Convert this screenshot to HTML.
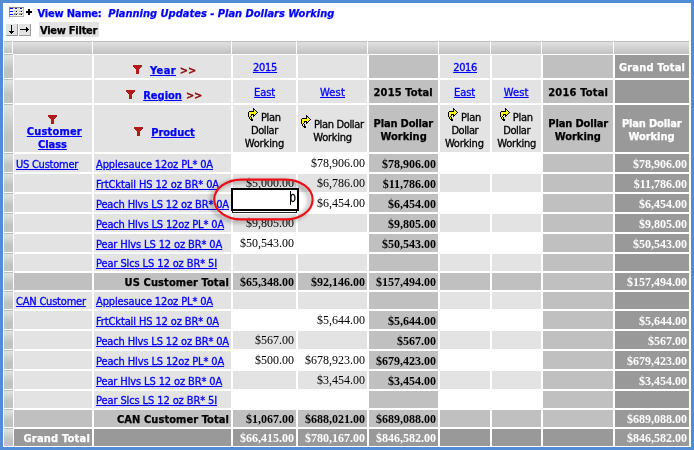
<!DOCTYPE html><html><head><meta charset="utf-8"><title>Planning Updates - Plan Dollars Working</title><style>
html,body{margin:0;padding:0}
body{width:694px;height:450px;overflow:hidden;background:#fff;position:relative}
#frame{position:absolute;left:0;top:0;width:688px;height:444px;border:3px solid #528cd6;pointer-events:none}
.c{position:absolute}
.t{position:absolute;white-space:nowrap;line-height:16px;height:16px;color:#000}
.u{text-decoration:underline}
.tr{font:11px 'DejaVu Sans Condensed','DejaVu Sans','Liberation Sans',sans-serif;-webkit-text-stroke:0.3px;}
.tb{font:bold 11px 'DejaVu Sans Condensed','DejaVu Sans','Liberation Sans',sans-serif;-webkit-text-stroke:0.25px;}
.tbi{font:italic bold 11px 'DejaVu Sans Condensed','DejaVu Sans','Liberation Sans',sans-serif;-webkit-text-stroke:0.25px;}
.tb12{font:bold 12px 'DejaVu Sans Condensed','DejaVu Sans','Liberation Sans',sans-serif;}
.sr{font:12px 'Liberation Serif',serif;}
.sb{font:bold 12px 'Liberation Serif',serif;}

</style></head><body>
<div class="c" style="left:4px;top:41px;width:8px;height:12px;background:linear-gradient(to bottom,#bcbcbc 0,#bcbcbc 1px,#e1e1e1 1px,#c1c1c1 100%);"></div>
<div class="c" style="left:13px;top:41px;width:79px;height:13px;background:linear-gradient(to bottom,#bcbcbc 0,#bcbcbc 1px,#e1e1e1 1px,#c1c1c1 100%);"></div>
<div class="c" style="left:93px;top:41px;width:138px;height:13px;background:linear-gradient(to bottom,#bcbcbc 0,#bcbcbc 1px,#e1e1e1 1px,#c1c1c1 100%);"></div>
<div class="c" style="left:232px;top:41px;width:64px;height:13px;background:linear-gradient(to bottom,#bcbcbc 0,#bcbcbc 1px,#e1e1e1 1px,#c1c1c1 100%);"></div>
<div class="c" style="left:297px;top:41px;width:70px;height:13px;background:linear-gradient(to bottom,#bcbcbc 0,#bcbcbc 1px,#e1e1e1 1px,#c1c1c1 100%);"></div>
<div class="c" style="left:368px;top:41px;width:70px;height:13px;background:linear-gradient(to bottom,#bcbcbc 0,#bcbcbc 1px,#e1e1e1 1px,#c1c1c1 100%);"></div>
<div class="c" style="left:439px;top:41px;width:51px;height:13px;background:linear-gradient(to bottom,#bcbcbc 0,#bcbcbc 1px,#e1e1e1 1px,#c1c1c1 100%);"></div>
<div class="c" style="left:491px;top:41px;width:50px;height:13px;background:linear-gradient(to bottom,#bcbcbc 0,#bcbcbc 1px,#e1e1e1 1px,#c1c1c1 100%);"></div>
<div class="c" style="left:542px;top:41px;width:71px;height:13px;background:linear-gradient(to bottom,#bcbcbc 0,#bcbcbc 1px,#e1e1e1 1px,#c1c1c1 100%);"></div>
<div class="c" style="left:614px;top:41px;width:75px;height:13px;background:linear-gradient(to bottom,#bcbcbc 0,#bcbcbc 1px,#e1e1e1 1px,#c1c1c1 100%);"></div>
<div class="c" style="left:4px;top:54px;width:9px;height:24px;background:linear-gradient(to bottom,#bcbcbc 0,#bcbcbc 1px,#e1e1e1 1px,#c2c2c2 65%,#c2c2c2 100%);"></div>
<div class="c" style="left:4px;top:79px;width:9px;height:24px;background:linear-gradient(to bottom,#bcbcbc 0,#bcbcbc 1px,#e1e1e1 1px,#c2c2c2 65%,#c2c2c2 100%);"></div>
<div class="c" style="left:4px;top:104px;width:9px;height:48px;background:linear-gradient(to bottom,#bcbcbc 0,#bcbcbc 1px,#e1e1e1 1px,#c2c2c2 65%,#c2c2c2 100%);"></div>
<div class="c" style="left:4px;top:153px;width:9px;height:19px;background:linear-gradient(to bottom,#bcbcbc 0,#bcbcbc 1px,#e1e1e1 1px,#c2c2c2 65%,#c2c2c2 100%);"></div>
<div class="c" style="left:4px;top:173px;width:9px;height:19px;background:linear-gradient(to bottom,#bcbcbc 0,#bcbcbc 1px,#e1e1e1 1px,#c2c2c2 65%,#c2c2c2 100%);"></div>
<div class="c" style="left:4px;top:193px;width:9px;height:19px;background:linear-gradient(to bottom,#bcbcbc 0,#bcbcbc 1px,#e1e1e1 1px,#c2c2c2 65%,#c2c2c2 100%);"></div>
<div class="c" style="left:4px;top:213px;width:9px;height:19px;background:linear-gradient(to bottom,#bcbcbc 0,#bcbcbc 1px,#e1e1e1 1px,#c2c2c2 65%,#c2c2c2 100%);"></div>
<div class="c" style="left:4px;top:233px;width:9px;height:19px;background:linear-gradient(to bottom,#bcbcbc 0,#bcbcbc 1px,#e1e1e1 1px,#c2c2c2 65%,#c2c2c2 100%);"></div>
<div class="c" style="left:4px;top:253px;width:9px;height:18px;background:linear-gradient(to bottom,#bcbcbc 0,#bcbcbc 1px,#e1e1e1 1px,#c2c2c2 65%,#c2c2c2 100%);"></div>
<div class="c" style="left:4px;top:272px;width:9px;height:18px;background:linear-gradient(to bottom,#bcbcbc 0,#bcbcbc 1px,#e1e1e1 1px,#c2c2c2 65%,#c2c2c2 100%);"></div>
<div class="c" style="left:4px;top:291px;width:9px;height:18px;background:linear-gradient(to bottom,#bcbcbc 0,#bcbcbc 1px,#e1e1e1 1px,#c2c2c2 65%,#c2c2c2 100%);"></div>
<div class="c" style="left:4px;top:310px;width:9px;height:19px;background:linear-gradient(to bottom,#bcbcbc 0,#bcbcbc 1px,#e1e1e1 1px,#c2c2c2 65%,#c2c2c2 100%);"></div>
<div class="c" style="left:4px;top:330px;width:9px;height:19px;background:linear-gradient(to bottom,#bcbcbc 0,#bcbcbc 1px,#e1e1e1 1px,#c2c2c2 65%,#c2c2c2 100%);"></div>
<div class="c" style="left:4px;top:350px;width:9px;height:19px;background:linear-gradient(to bottom,#bcbcbc 0,#bcbcbc 1px,#e1e1e1 1px,#c2c2c2 65%,#c2c2c2 100%);"></div>
<div class="c" style="left:4px;top:370px;width:9px;height:19px;background:linear-gradient(to bottom,#bcbcbc 0,#bcbcbc 1px,#e1e1e1 1px,#c2c2c2 65%,#c2c2c2 100%);"></div>
<div class="c" style="left:4px;top:390px;width:9px;height:18px;background:linear-gradient(to bottom,#bcbcbc 0,#bcbcbc 1px,#e1e1e1 1px,#c2c2c2 65%,#c2c2c2 100%);"></div>
<div class="c" style="left:4px;top:409px;width:9px;height:18px;background:linear-gradient(to bottom,#bcbcbc 0,#bcbcbc 1px,#e1e1e1 1px,#c2c2c2 65%,#c2c2c2 100%);"></div>
<div class="c" style="left:4px;top:428px;width:9px;height:18px;background:linear-gradient(to bottom,#bcbcbc 0,#bcbcbc 1px,#e1e1e1 1px,#c2c2c2 65%,#c2c2c2 100%);"></div>
<div class="c" style="left:14px;top:55px;width:78px;height:23px;background:#e3e3e3;"></div>
<div class="c" style="left:94px;top:55px;width:137px;height:23px;background:#e3e3e3;"></div>
<div class="c" style="left:233px;top:55px;width:63px;height:23px;background:#e3e3e3;"></div>
<div class="c" style="left:298px;top:55px;width:69px;height:23px;background:#e3e3e3;"></div>
<div class="c" style="left:369px;top:55px;width:69px;height:23px;background:#c0c0c0;"></div>
<div class="c" style="left:440px;top:55px;width:50px;height:23px;background:#e3e3e3;"></div>
<div class="c" style="left:492px;top:55px;width:49px;height:23px;background:#e3e3e3;"></div>
<div class="c" style="left:543px;top:55px;width:70px;height:23px;background:#c0c0c0;"></div>
<div class="c" style="left:615px;top:55px;width:74px;height:23px;background:#999999;"></div>
<div class="c" style="left:14px;top:80px;width:78px;height:23px;background:#e3e3e3;"></div>
<div class="c" style="left:94px;top:80px;width:137px;height:23px;background:#e3e3e3;"></div>
<div class="c" style="left:233px;top:80px;width:63px;height:23px;background:#e3e3e3;"></div>
<div class="c" style="left:298px;top:80px;width:69px;height:23px;background:#e3e3e3;"></div>
<div class="c" style="left:369px;top:80px;width:69px;height:23px;background:#c0c0c0;"></div>
<div class="c" style="left:440px;top:80px;width:50px;height:23px;background:#e3e3e3;"></div>
<div class="c" style="left:492px;top:80px;width:49px;height:23px;background:#e3e3e3;"></div>
<div class="c" style="left:543px;top:80px;width:70px;height:23px;background:#c0c0c0;"></div>
<div class="c" style="left:615px;top:80px;width:74px;height:23px;background:#999999;"></div>
<div class="c" style="left:14px;top:105px;width:78px;height:47px;background:#e3e3e3;"></div>
<div class="c" style="left:94px;top:105px;width:137px;height:47px;background:#e3e3e3;"></div>
<div class="c" style="left:233px;top:105px;width:63px;height:47px;background:#e3e3e3;"></div>
<div class="c" style="left:298px;top:105px;width:69px;height:47px;background:#e3e3e3;"></div>
<div class="c" style="left:369px;top:105px;width:69px;height:47px;background:#c0c0c0;"></div>
<div class="c" style="left:440px;top:105px;width:50px;height:47px;background:#e3e3e3;"></div>
<div class="c" style="left:492px;top:105px;width:49px;height:47px;background:#e3e3e3;"></div>
<div class="c" style="left:543px;top:105px;width:70px;height:47px;background:#c0c0c0;"></div>
<div class="c" style="left:615px;top:105px;width:74px;height:47px;background:#999999;"></div>
<div class="c" style="left:14px;top:154px;width:78px;height:18px;background:#e3e3e3;"></div>
<div class="c" style="left:94px;top:154px;width:137px;height:18px;background:#e3e3e3;"></div>
<div class="c" style="left:233px;top:154px;width:63px;height:18px;background:#ffffff;"></div>
<div class="c" style="left:298px;top:154px;width:69px;height:18px;background:#ffffff;"></div>
<div class="c" style="left:440px;top:154px;width:50px;height:18px;background:#ffffff;"></div>
<div class="c" style="left:492px;top:154px;width:49px;height:18px;background:#ffffff;"></div>
<div class="c" style="left:369px;top:154px;width:69px;height:18px;background:#c0c0c0;"></div>
<div class="c" style="left:543px;top:154px;width:70px;height:18px;background:#c0c0c0;"></div>
<div class="c" style="left:615px;top:154px;width:74px;height:18px;background:#999999;"></div>
<div class="c" style="left:14px;top:174px;width:78px;height:18px;background:#e3e3e3;"></div>
<div class="c" style="left:94px;top:174px;width:137px;height:18px;background:#e3e3e3;"></div>
<div class="c" style="left:233px;top:174px;width:63px;height:18px;background:#e3e3e3;"></div>
<div class="c" style="left:298px;top:174px;width:69px;height:18px;background:#e3e3e3;"></div>
<div class="c" style="left:440px;top:174px;width:50px;height:18px;background:#e3e3e3;"></div>
<div class="c" style="left:492px;top:174px;width:49px;height:18px;background:#e3e3e3;"></div>
<div class="c" style="left:369px;top:174px;width:69px;height:18px;background:#c0c0c0;"></div>
<div class="c" style="left:543px;top:174px;width:70px;height:18px;background:#c0c0c0;"></div>
<div class="c" style="left:615px;top:174px;width:74px;height:18px;background:#999999;"></div>
<div class="c" style="left:14px;top:194px;width:78px;height:18px;background:#e3e3e3;"></div>
<div class="c" style="left:94px;top:194px;width:137px;height:18px;background:#e3e3e3;"></div>
<div class="c" style="left:233px;top:194px;width:63px;height:18px;background:#ffffff;"></div>
<div class="c" style="left:298px;top:194px;width:69px;height:18px;background:#ffffff;"></div>
<div class="c" style="left:440px;top:194px;width:50px;height:18px;background:#ffffff;"></div>
<div class="c" style="left:492px;top:194px;width:49px;height:18px;background:#ffffff;"></div>
<div class="c" style="left:369px;top:194px;width:69px;height:18px;background:#c0c0c0;"></div>
<div class="c" style="left:543px;top:194px;width:70px;height:18px;background:#c0c0c0;"></div>
<div class="c" style="left:615px;top:194px;width:74px;height:18px;background:#999999;"></div>
<div class="c" style="left:14px;top:214px;width:78px;height:18px;background:#e3e3e3;"></div>
<div class="c" style="left:94px;top:214px;width:137px;height:18px;background:#e3e3e3;"></div>
<div class="c" style="left:233px;top:214px;width:63px;height:18px;background:#e3e3e3;"></div>
<div class="c" style="left:298px;top:214px;width:69px;height:18px;background:#e3e3e3;"></div>
<div class="c" style="left:440px;top:214px;width:50px;height:18px;background:#e3e3e3;"></div>
<div class="c" style="left:492px;top:214px;width:49px;height:18px;background:#e3e3e3;"></div>
<div class="c" style="left:369px;top:214px;width:69px;height:18px;background:#c0c0c0;"></div>
<div class="c" style="left:543px;top:214px;width:70px;height:18px;background:#c0c0c0;"></div>
<div class="c" style="left:615px;top:214px;width:74px;height:18px;background:#999999;"></div>
<div class="c" style="left:14px;top:234px;width:78px;height:18px;background:#e3e3e3;"></div>
<div class="c" style="left:94px;top:234px;width:137px;height:18px;background:#e3e3e3;"></div>
<div class="c" style="left:233px;top:234px;width:63px;height:18px;background:#ffffff;"></div>
<div class="c" style="left:298px;top:234px;width:69px;height:18px;background:#ffffff;"></div>
<div class="c" style="left:440px;top:234px;width:50px;height:18px;background:#ffffff;"></div>
<div class="c" style="left:492px;top:234px;width:49px;height:18px;background:#ffffff;"></div>
<div class="c" style="left:369px;top:234px;width:69px;height:18px;background:#c0c0c0;"></div>
<div class="c" style="left:543px;top:234px;width:70px;height:18px;background:#c0c0c0;"></div>
<div class="c" style="left:615px;top:234px;width:74px;height:18px;background:#999999;"></div>
<div class="c" style="left:14px;top:254px;width:78px;height:17px;background:#e3e3e3;"></div>
<div class="c" style="left:94px;top:254px;width:137px;height:17px;background:#e3e3e3;"></div>
<div class="c" style="left:233px;top:254px;width:63px;height:17px;background:#e3e3e3;"></div>
<div class="c" style="left:298px;top:254px;width:69px;height:17px;background:#e3e3e3;"></div>
<div class="c" style="left:440px;top:254px;width:50px;height:17px;background:#e3e3e3;"></div>
<div class="c" style="left:492px;top:254px;width:49px;height:17px;background:#e3e3e3;"></div>
<div class="c" style="left:369px;top:254px;width:69px;height:17px;background:#c0c0c0;"></div>
<div class="c" style="left:543px;top:254px;width:70px;height:17px;background:#c0c0c0;"></div>
<div class="c" style="left:615px;top:254px;width:74px;height:17px;background:#999999;"></div>
<div class="c" style="left:14px;top:273px;width:78px;height:17px;background:#c0c0c0;"></div>
<div class="c" style="left:94px;top:273px;width:137px;height:17px;background:#c0c0c0;"></div>
<div class="c" style="left:233px;top:273px;width:63px;height:17px;background:#c0c0c0;"></div>
<div class="c" style="left:298px;top:273px;width:69px;height:17px;background:#c0c0c0;"></div>
<div class="c" style="left:369px;top:273px;width:69px;height:17px;background:#c0c0c0;"></div>
<div class="c" style="left:440px;top:273px;width:50px;height:17px;background:#c0c0c0;"></div>
<div class="c" style="left:492px;top:273px;width:49px;height:17px;background:#c0c0c0;"></div>
<div class="c" style="left:543px;top:273px;width:70px;height:17px;background:#c0c0c0;"></div>
<div class="c" style="left:615px;top:273px;width:74px;height:17px;background:#999999;"></div>
<div class="c" style="left:14px;top:292px;width:78px;height:17px;background:#e3e3e3;"></div>
<div class="c" style="left:94px;top:292px;width:137px;height:17px;background:#e3e3e3;"></div>
<div class="c" style="left:233px;top:292px;width:63px;height:17px;background:#e3e3e3;"></div>
<div class="c" style="left:298px;top:292px;width:69px;height:17px;background:#e3e3e3;"></div>
<div class="c" style="left:440px;top:292px;width:50px;height:17px;background:#e3e3e3;"></div>
<div class="c" style="left:492px;top:292px;width:49px;height:17px;background:#e3e3e3;"></div>
<div class="c" style="left:369px;top:292px;width:69px;height:17px;background:#c0c0c0;"></div>
<div class="c" style="left:543px;top:292px;width:70px;height:17px;background:#c0c0c0;"></div>
<div class="c" style="left:615px;top:292px;width:74px;height:17px;background:#999999;"></div>
<div class="c" style="left:14px;top:311px;width:78px;height:18px;background:#e3e3e3;"></div>
<div class="c" style="left:94px;top:311px;width:137px;height:18px;background:#e3e3e3;"></div>
<div class="c" style="left:233px;top:311px;width:63px;height:18px;background:#ffffff;"></div>
<div class="c" style="left:298px;top:311px;width:69px;height:18px;background:#ffffff;"></div>
<div class="c" style="left:440px;top:311px;width:50px;height:18px;background:#ffffff;"></div>
<div class="c" style="left:492px;top:311px;width:49px;height:18px;background:#ffffff;"></div>
<div class="c" style="left:369px;top:311px;width:69px;height:18px;background:#c0c0c0;"></div>
<div class="c" style="left:543px;top:311px;width:70px;height:18px;background:#c0c0c0;"></div>
<div class="c" style="left:615px;top:311px;width:74px;height:18px;background:#999999;"></div>
<div class="c" style="left:14px;top:331px;width:78px;height:18px;background:#e3e3e3;"></div>
<div class="c" style="left:94px;top:331px;width:137px;height:18px;background:#e3e3e3;"></div>
<div class="c" style="left:233px;top:331px;width:63px;height:18px;background:#e3e3e3;"></div>
<div class="c" style="left:298px;top:331px;width:69px;height:18px;background:#e3e3e3;"></div>
<div class="c" style="left:440px;top:331px;width:50px;height:18px;background:#e3e3e3;"></div>
<div class="c" style="left:492px;top:331px;width:49px;height:18px;background:#e3e3e3;"></div>
<div class="c" style="left:369px;top:331px;width:69px;height:18px;background:#c0c0c0;"></div>
<div class="c" style="left:543px;top:331px;width:70px;height:18px;background:#c0c0c0;"></div>
<div class="c" style="left:615px;top:331px;width:74px;height:18px;background:#999999;"></div>
<div class="c" style="left:14px;top:351px;width:78px;height:18px;background:#e3e3e3;"></div>
<div class="c" style="left:94px;top:351px;width:137px;height:18px;background:#e3e3e3;"></div>
<div class="c" style="left:233px;top:351px;width:63px;height:18px;background:#ffffff;"></div>
<div class="c" style="left:298px;top:351px;width:69px;height:18px;background:#ffffff;"></div>
<div class="c" style="left:440px;top:351px;width:50px;height:18px;background:#ffffff;"></div>
<div class="c" style="left:492px;top:351px;width:49px;height:18px;background:#ffffff;"></div>
<div class="c" style="left:369px;top:351px;width:69px;height:18px;background:#c0c0c0;"></div>
<div class="c" style="left:543px;top:351px;width:70px;height:18px;background:#c0c0c0;"></div>
<div class="c" style="left:615px;top:351px;width:74px;height:18px;background:#999999;"></div>
<div class="c" style="left:14px;top:371px;width:78px;height:18px;background:#e3e3e3;"></div>
<div class="c" style="left:94px;top:371px;width:137px;height:18px;background:#e3e3e3;"></div>
<div class="c" style="left:233px;top:371px;width:63px;height:18px;background:#e3e3e3;"></div>
<div class="c" style="left:298px;top:371px;width:69px;height:18px;background:#e3e3e3;"></div>
<div class="c" style="left:440px;top:371px;width:50px;height:18px;background:#e3e3e3;"></div>
<div class="c" style="left:492px;top:371px;width:49px;height:18px;background:#e3e3e3;"></div>
<div class="c" style="left:369px;top:371px;width:69px;height:18px;background:#c0c0c0;"></div>
<div class="c" style="left:543px;top:371px;width:70px;height:18px;background:#c0c0c0;"></div>
<div class="c" style="left:615px;top:371px;width:74px;height:18px;background:#999999;"></div>
<div class="c" style="left:14px;top:391px;width:78px;height:17px;background:#e3e3e3;"></div>
<div class="c" style="left:94px;top:391px;width:137px;height:17px;background:#e3e3e3;"></div>
<div class="c" style="left:233px;top:391px;width:63px;height:17px;background:#ffffff;"></div>
<div class="c" style="left:298px;top:391px;width:69px;height:17px;background:#ffffff;"></div>
<div class="c" style="left:440px;top:391px;width:50px;height:17px;background:#ffffff;"></div>
<div class="c" style="left:492px;top:391px;width:49px;height:17px;background:#ffffff;"></div>
<div class="c" style="left:369px;top:391px;width:69px;height:17px;background:#c0c0c0;"></div>
<div class="c" style="left:543px;top:391px;width:70px;height:17px;background:#c0c0c0;"></div>
<div class="c" style="left:615px;top:391px;width:74px;height:17px;background:#999999;"></div>
<div class="c" style="left:14px;top:410px;width:78px;height:17px;background:#c0c0c0;"></div>
<div class="c" style="left:94px;top:410px;width:137px;height:17px;background:#c0c0c0;"></div>
<div class="c" style="left:233px;top:410px;width:63px;height:17px;background:#c0c0c0;"></div>
<div class="c" style="left:298px;top:410px;width:69px;height:17px;background:#c0c0c0;"></div>
<div class="c" style="left:369px;top:410px;width:69px;height:17px;background:#c0c0c0;"></div>
<div class="c" style="left:440px;top:410px;width:50px;height:17px;background:#c0c0c0;"></div>
<div class="c" style="left:492px;top:410px;width:49px;height:17px;background:#c0c0c0;"></div>
<div class="c" style="left:543px;top:410px;width:70px;height:17px;background:#c0c0c0;"></div>
<div class="c" style="left:615px;top:410px;width:74px;height:17px;background:#999999;"></div>
<div class="c" style="left:14px;top:429px;width:78px;height:17px;background:#999999;"></div>
<div class="c" style="left:94px;top:429px;width:137px;height:17px;background:#999999;"></div>
<div class="c" style="left:233px;top:429px;width:63px;height:17px;background:#999999;"></div>
<div class="c" style="left:298px;top:429px;width:69px;height:17px;background:#999999;"></div>
<div class="c" style="left:369px;top:429px;width:69px;height:17px;background:#999999;"></div>
<div class="c" style="left:440px;top:429px;width:50px;height:17px;background:#999999;"></div>
<div class="c" style="left:492px;top:429px;width:49px;height:17px;background:#999999;"></div>
<div class="c" style="left:543px;top:429px;width:70px;height:17px;background:#999999;"></div>
<div class="c" style="left:615px;top:429px;width:74px;height:17px;background:#999999;"></div>
<div class="c" style="left:39px;top:22px;width:60px;height:15px;background:#e3e3e3"></div>
<svg class="c" style="left:0;top:0" width="694" height="450" viewBox="0 0 694 450">
<defs>
<g id="fn" shape-rendering="crispEdges"><path d="M0 0H9V2H8V3H7V4H6V9H3V4H2V3H1V2H0Z" fill="#b41a1a"/></g>
<g id="ya" shape-rendering="crispEdges"><rect x="5" y="0" width="1" height="1" fill="#000"/><rect x="5" y="1" width="2" height="1" fill="#000"/><rect x="5" y="2" width="1" height="1" fill="#000"/><rect x="6" y="2" width="1" height="1" fill="#ffff00"/><rect x="7" y="2" width="1" height="1" fill="#000"/><rect x="1" y="3" width="5" height="1" fill="#000"/><rect x="6" y="3" width="2" height="1" fill="#ffff00"/><rect x="8" y="3" width="1" height="1" fill="#000"/><rect x="0" y="4" width="1" height="1" fill="#000"/><rect x="1" y="4" width="8" height="1" fill="#ffff00"/><rect x="9" y="4" width="1" height="1" fill="#000"/><rect x="0" y="5" width="1" height="1" fill="#000"/><rect x="1" y="5" width="7" height="1" fill="#ffff00"/><rect x="8" y="5" width="1" height="1" fill="#000"/><rect x="0" y="6" width="1" height="1" fill="#000"/><rect x="1" y="6" width="2" height="1" fill="#ffff00"/><rect x="3" y="6" width="3" height="1" fill="#000"/><rect x="6" y="6" width="1" height="1" fill="#ffff00"/><rect x="7" y="6" width="1" height="1" fill="#000"/><rect x="0" y="7" width="1" height="1" fill="#000"/><rect x="1" y="7" width="2" height="1" fill="#ffff00"/><rect x="3" y="7" width="1" height="1" fill="#000"/><rect x="5" y="7" width="2" height="1" fill="#000"/><rect x="0" y="8" width="1" height="1" fill="#000"/><rect x="1" y="8" width="1" height="1" fill="#ffff00"/><rect x="2" y="8" width="1" height="1" fill="#000"/><rect x="5" y="8" width="1" height="1" fill="#000"/><rect x="1" y="9" width="1" height="1" fill="#000"/><rect x="2" y="9" width="1" height="1" fill="#ffff00"/><rect x="3" y="9" width="1" height="1" fill="#000"/><rect x="1" y="10" width="1" height="1" fill="#000"/><rect x="2" y="10" width="1" height="1" fill="#ffff00"/><rect x="3" y="10" width="1" height="1" fill="#000"/><rect x="2" y="11" width="3" height="1" fill="#000"/><rect x="3" y="12" width="2" height="1" fill="#000"/></g>
</defs>
<!-- grid icon -->
<g shape-rendering="crispEdges">
<rect x="9" y="7" width="15" height="10" fill="#fdfdf4"/>
<rect x="9" y="7" width="15" height="1" fill="#8a8a8a"/><rect x="9" y="7" width="1" height="10" fill="#8a8a8a"/>
<rect x="23" y="8" width="1" height="9" fill="#c4c4c4"/><rect x="10" y="16" width="14" height="1" fill="#b0b0b0"/>
<rect x="13" y="8" width="1" height="8" fill="#e4e4e4"/><rect x="18" y="8" width="1" height="8" fill="#e4e4e4"/>
<rect x="10" y="8" width="3" height="1" fill="#00f"/><rect x="15" y="8" width="2" height="1" fill="#00f"/><rect x="20" y="8" width="2" height="1" fill="#00f"/>
<rect x="10" y="11" width="3" height="1" fill="#00f"/><rect x="10" y="14" width="3" height="1" fill="#00f"/>
<rect x="14" y="10" width="4" height="1" fill="#d8d8d8"/><rect x="19" y="10" width="4" height="1" fill="#d8d8d8"/>
<rect x="14" y="13" width="4" height="1" fill="#a8a8a8"/><rect x="19" y="13" width="4" height="1" fill="#a8a8a8"/>
<rect x="14" y="11" width="2" height="1" fill="#c0c0c0"/><rect x="19" y="11" width="2" height="1" fill="#c0c0c0"/>
<rect x="14" y="14" width="2" height="1" fill="#909090"/><rect x="19" y="14" width="2" height="1" fill="#909090"/>
<rect x="16" y="11" width="1" height="1" fill="#000"/><rect x="21" y="11" width="1" height="1" fill="#000"/>
<rect x="16" y="14" width="1" height="1" fill="#000"/><rect x="21" y="14" width="1" height="1" fill="#000"/>
<!-- plus -->
<rect x="26" y="11" width="6" height="2" fill="#000"/><rect x="28" y="9" width="2" height="6" fill="#000"/>
<!-- buttons -->
<rect x="6" y="24" width="12" height="12" fill="#e3e3e3"/><rect x="17" y="24" width="1" height="12" fill="#9a9a9a"/><rect x="6" y="35" width="12" height="1" fill="#9a9a9a"/>
<rect x="19" y="24" width="12" height="12" fill="#e3e3e3"/><rect x="30" y="24" width="1" height="12" fill="#9a9a9a"/><rect x="19" y="35" width="12" height="1" fill="#9a9a9a"/>
<rect x="11" y="25" width="1" height="9" fill="#000"/><rect x="9" y="31" width="5" height="1" fill="#000"/><rect x="10" y="32" width="3" height="1" fill="#000"/>
<rect x="20" y="29" width="9" height="1" fill="#000"/><rect x="26" y="27" width="1" height="5" fill="#000"/><rect x="27" y="28" width="1" height="3" fill="#000"/>
</g>
<!-- funnels -->
<use href="#fn" x="133" y="65"/><use href="#fn" x="126" y="90"/><use href="#fn" x="48" y="115"/><use href="#fn" x="134" y="127"/>
<!-- yellow arrows -->
<use href="#ya" x="248" y="108"/><use href="#ya" x="301" y="115"/><use href="#ya" x="448" y="108"/><use href="#ya" x="500" y="108"/>
</svg>

<span class="t tr u" style="left:16.00px;top:158.00px;letter-spacing:-0.241px;color:#0000ff;">US Customer</span>
<span class="t tr u" style="left:96.00px;top:158.00px;letter-spacing:-0.134px;color:#0000ff;">Applesauce 12oz PL* 0A</span>
<span class="t sr" style="left:311.00px;top:156.00px;">$78,906.00</span>
<span class="t sb" style="left:382.00px;top:157.00px;">$78,906.00</span>
<span class="t sb" style="left:633.00px;top:157.00px;color:#fff;">$78,906.00</span>
<span class="t tr u" style="left:96.00px;top:178.00px;letter-spacing:-0.115px;color:#0000ff;">FrtCktail HS 12 oz BR* 0A</span>
<span class="t sr" style="left:246.00px;top:176.00px;">$5,000.00</span>
<span class="t sr" style="left:317.00px;top:176.00px;">$6,786.00</span>
<span class="t sb" style="left:382.66px;top:177.00px;">$11,786.00</span>
<span class="t sb" style="left:633.66px;top:177.00px;color:#fff;">$11,786.00</span>
<span class="t tr u" style="left:96.00px;top:198.00px;letter-spacing:-0.147px;color:#0000ff;">Peach Hlvs LS 12 oz BR* 0A</span>
<span class="t sr" style="left:317.00px;top:196.00px;">$6,454.00</span>
<span class="t sb" style="left:388.00px;top:197.00px;">$6,454.00</span>
<span class="t sb" style="left:639.00px;top:197.00px;color:#fff;">$6,454.00</span>
<span class="t tr u" style="left:96.00px;top:218.00px;letter-spacing:-0.139px;color:#0000ff;">Peach Hlvs LS 12oz PL* 0A</span>
<span class="t sr" style="left:246.00px;top:216.00px;">$9,805.00</span>
<span class="t sb" style="left:388.00px;top:217.00px;">$9,805.00</span>
<span class="t sb" style="left:639.00px;top:217.00px;color:#fff;">$9,805.00</span>
<span class="t tr u" style="left:96.00px;top:238.00px;letter-spacing:-0.119px;color:#0000ff;">Pear Hlvs LS 12 oz BR* 0A</span>
<span class="t sr" style="left:240.00px;top:236.00px;">$50,543.00</span>
<span class="t sb" style="left:382.00px;top:237.00px;">$50,543.00</span>
<span class="t sb" style="left:633.00px;top:237.00px;color:#fff;">$50,543.00</span>
<span class="t tr u" style="left:96.00px;top:257.00px;letter-spacing:-0.109px;color:#0000ff;">Pear Slcs LS 12 oz BR* 5I</span>
<span class="t tb" style="left:124.60px;top:276.00px;letter-spacing:0.107px;">US Customer Total</span>
<span class="t sb" style="left:240.00px;top:275.00px;">$65,348.00</span>
<span class="t sb" style="left:311.00px;top:275.00px;">$92,146.00</span>
<span class="t sb" style="left:376.00px;top:275.00px;">$157,494.00</span>
<span class="t sb" style="left:627.00px;top:275.00px;color:#fff;">$157,494.00</span>
<span class="t tr u" style="left:16.00px;top:295.00px;letter-spacing:-0.208px;color:#0000ff;">CAN Customer</span>
<span class="t tr u" style="left:96.00px;top:295.00px;letter-spacing:-0.134px;color:#0000ff;">Applesauce 12oz PL* 0A</span>
<span class="t tr u" style="left:96.00px;top:315.00px;letter-spacing:-0.115px;color:#0000ff;">FrtCktail HS 12 oz BR* 0A</span>
<span class="t sr" style="left:317.00px;top:313.00px;">$5,644.00</span>
<span class="t sb" style="left:388.00px;top:314.00px;">$5,644.00</span>
<span class="t sb" style="left:639.00px;top:314.00px;color:#fff;">$5,644.00</span>
<span class="t tr u" style="left:96.00px;top:335.00px;letter-spacing:-0.147px;color:#0000ff;">Peach Hlvs LS 12 oz BR* 0A</span>
<span class="t sr" style="left:255.00px;top:333.00px;">$567.00</span>
<span class="t sb" style="left:397.00px;top:334.00px;">$567.00</span>
<span class="t sb" style="left:648.00px;top:334.00px;color:#fff;">$567.00</span>
<span class="t tr u" style="left:96.00px;top:355.00px;letter-spacing:-0.139px;color:#0000ff;">Peach Hlvs LS 12oz PL* 0A</span>
<span class="t sr" style="left:255.00px;top:353.00px;">$500.00</span>
<span class="t sr" style="left:305.00px;top:353.00px;">$678,923.00</span>
<span class="t sb" style="left:376.00px;top:354.00px;">$679,423.00</span>
<span class="t sb" style="left:627.00px;top:354.00px;color:#fff;">$679,423.00</span>
<span class="t tr u" style="left:96.00px;top:375.00px;letter-spacing:-0.119px;color:#0000ff;">Pear Hlvs LS 12 oz BR* 0A</span>
<span class="t sr" style="left:317.00px;top:373.00px;">$3,454.00</span>
<span class="t sb" style="left:388.00px;top:374.00px;">$3,454.00</span>
<span class="t sb" style="left:639.00px;top:374.00px;color:#fff;">$3,454.00</span>
<span class="t tr u" style="left:96.00px;top:394.00px;letter-spacing:-0.109px;color:#0000ff;">Pear Slcs LS 12 oz BR* 5I</span>
<span class="t tb" style="left:117.00px;top:413.00px;letter-spacing:0.076px;">CAN Customer Total</span>
<span class="t sb" style="left:246.00px;top:412.00px;">$1,067.00</span>
<span class="t sb" style="left:305.00px;top:412.00px;">$688,021.00</span>
<span class="t sb" style="left:376.00px;top:412.00px;">$689,088.00</span>
<span class="t sb" style="left:627.00px;top:412.00px;color:#fff;">$689,088.00</span>
<span class="t tb" style="left:23.50px;top:432.00px;letter-spacing:0.213px;color:#fff;">Grand Total</span>
<span class="t sb" style="left:240.00px;top:431.00px;color:#fff;">$66,415.00</span>
<span class="t sb" style="left:305.00px;top:431.00px;color:#fff;">$780,167.00</span>
<span class="t sb" style="left:376.00px;top:431.00px;color:#fff;">$846,582.00</span>
<span class="t sb" style="left:627.00px;top:431.00px;color:#fff;">$846,582.00</span>
<span class="t tb" style="left:37.60px;top:7.00px;letter-spacing:-0.221px;color:#0000ff;">View Name:</span>
<span class="t tbi" style="left:108.20px;top:7.00px;color:#0000ff;">Planning Updates - Plan Dollars Working</span>
<span class="t tb" style="left:40.00px;top:24.00px;letter-spacing:-0.257px;color:#000;">View Filter</span>
<span class="t tb u" style="left:150.00px;top:64.00px;letter-spacing:0.391px;color:#0000ff;">Year</span>
<span class="t tb" style="left:179.80px;top:64.00px;letter-spacing:-0.147px;color:#8b0a0a;">&gt;&gt;</span>
<span class="t tb u" style="left:143.20px;top:89.00px;letter-spacing:0.007px;color:#0000ff;">Region</span>
<span class="t tb" style="left:185.90px;top:89.00px;letter-spacing:-0.147px;color:#8b0a0a;">&gt;&gt;</span>
<span class="t tb u" style="left:26.80px;top:125.00px;letter-spacing:0.180px;color:#0000ff;">Customer</span>
<span class="t tb u" style="left:38.10px;top:138.00px;letter-spacing:-0.065px;color:#0000ff;">Class</span>
<span class="t tb u" style="left:151.20px;top:126.00px;color:#0000ff;">Product</span>
<span class="t tr u" style="left:252.90px;top:61.00px;letter-spacing:-0.247px;color:#0000ff;">2015</span>
<span class="t tr u" style="left:453.20px;top:61.00px;letter-spacing:-0.347px;color:#0000ff;">2016</span>
<span class="t tr u" style="left:254.00px;top:86.00px;letter-spacing:-0.090px;color:#0000ff;">East</span>
<span class="t tr u" style="left:320.00px;top:86.00px;letter-spacing:0.180px;color:#0000ff;">West</span>
<span class="t tr u" style="left:454.00px;top:86.00px;letter-spacing:-0.090px;color:#0000ff;">East</span>
<span class="t tr u" style="left:503.70px;top:86.00px;letter-spacing:0.180px;color:#0000ff;">West</span>
<span class="t tb" style="left:373.60px;top:86.00px;letter-spacing:0.142px;">2015 Total</span>
<span class="t tb" style="left:548.30px;top:86.00px;letter-spacing:0.192px;">2016 Total</span>
<span class="t tb" style="left:619.00px;top:61.00px;letter-spacing:0.177px;color:#fff;">Grand Total</span>
<span class="t tr" style="left:261.00px;top:111.00px;letter-spacing:-0.366px;">Plan</span>
<span class="t tr" style="left:251.00px;top:124.00px;letter-spacing:-0.419px;">Dollar</span>
<span class="t tr" style="left:244.70px;top:137.00px;letter-spacing:-0.130px;">Working</span>
<span class="t tr" style="left:314.00px;top:118.00px;letter-spacing:-0.347px;">Plan Dollar</span>
<span class="t tr" style="left:313.30px;top:131.00px;letter-spacing:-0.259px;">Working</span>
<span class="t tb" style="left:373.60px;top:117.00px;letter-spacing:-0.161px;">Plan Dollar</span>
<span class="t tb" style="left:380.60px;top:130.00px;letter-spacing:-0.030px;">Working</span>
<span class="t tr" style="left:461.00px;top:111.00px;letter-spacing:-0.266px;">Plan</span>
<span class="t tr" style="left:451.40px;top:124.00px;letter-spacing:-0.402px;">Dollar</span>
<span class="t tr" style="left:444.90px;top:137.00px;letter-spacing:-0.202px;">Working</span>
<span class="t tr" style="left:512.80px;top:111.00px;letter-spacing:-0.266px;">Plan</span>
<span class="t tr" style="left:503.20px;top:124.00px;letter-spacing:-0.385px;">Dollar</span>
<span class="t tr" style="left:497.30px;top:137.00px;letter-spacing:-0.202px;">Working</span>
<span class="t tb" style="left:548.30px;top:117.00px;letter-spacing:-0.125px;">Plan Dollar</span>
<span class="t tb" style="left:554.80px;top:130.00px;letter-spacing:-0.045px;">Working</span>
<span class="t tb" style="left:621.90px;top:117.00px;letter-spacing:-0.134px;color:#fff;">Plan Dollar</span>
<span class="t tb" style="left:628.40px;top:130.00px;letter-spacing:-0.016px;color:#fff;">Working</span>
<svg class="c" style="left:0;top:0" width="694" height="450" viewBox="0 0 694 450">
<!-- edit box -->
<g shape-rendering="crispEdges">
<rect x="231" y="188" width="68" height="26" fill="#fff" stroke="none"/>
<rect x="232" y="189" width="66" height="21" fill="#fff" stroke="#000" stroke-width="2"/>
<rect x="232" y="212" width="65" height="1" fill="#222"/><rect x="232" y="211" width="1" height="1" fill="#222"/><rect x="296" y="211" width="1" height="1" fill="#222"/>
<rect x="290" y="191" width="1" height="14" fill="#000"/>
</g>
<defs><filter id="sh" x="-20%" y="-30%" width="140%" height="160%"><feGaussianBlur stdDeviation="2"/></filter></defs>
<rect x="211.4" y="181.4" width="98.4" height="39.8" rx="27" ry="19.9" fill="none" stroke="#000" stroke-opacity="0.36" stroke-width="2.8" filter="url(#sh)"/>
<rect x="214.2" y="179.6" width="98.4" height="39.8" rx="27" ry="19.9" fill="none" stroke="#f00c14" stroke-width="2.1"/>
</svg>

<span class="t tr" style="left:289.70px;top:192.00px;">0</span>
<div id="frame"></div>
</body></html>
